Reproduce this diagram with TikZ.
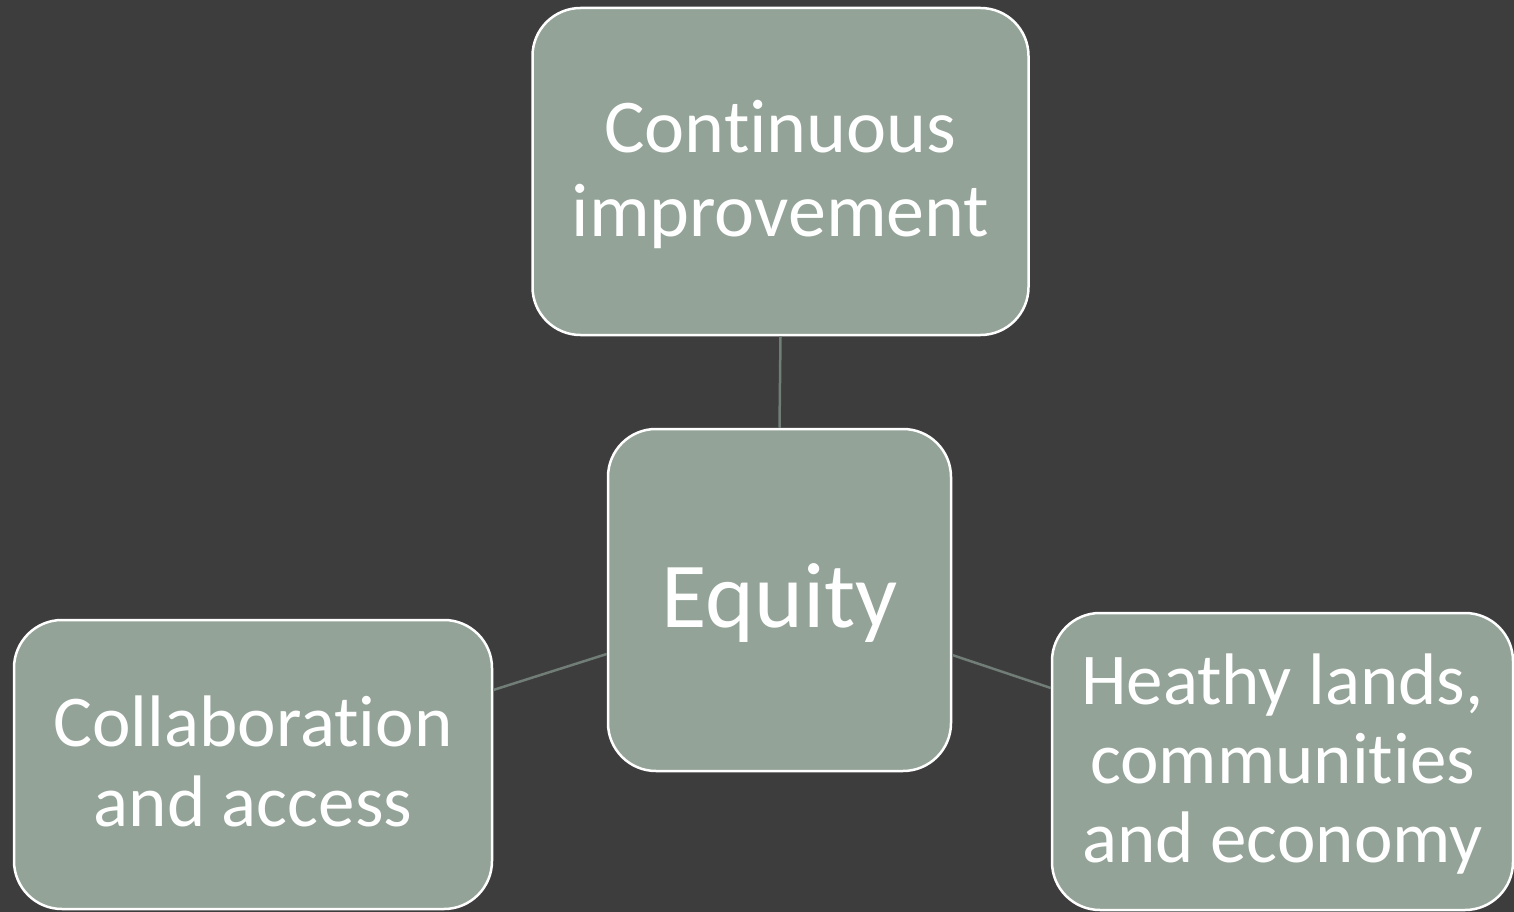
\documentclass[tikz,border=0pt]{standalone}
\usepackage{fontspec}
\setmainfont{Carlito}[Ligatures={NoCommon}]
\definecolor{bgc}{HTML}{3D3D3D}
\definecolor{boxc}{HTML}{93A398}
\definecolor{linec}{HTML}{717D77}
\newcommand{\mystrut}{\rule[-0.2em]{0pt}{1em}}
\begin{document}
\begin{tikzpicture}[x=1pt,y=-1pt,
  boxstyle/.style={draw=white, line width=2.5pt, fill=boxc, rounded corners=48pt,
    text=white, align=center, inner sep=0pt},
  conn/.style={draw=linec, line width=2.5pt}]
\fill[bgc] (0,0) rectangle (1514,912);
\useasboundingbox (0,0) rectangle (1514,912);
\node[boxstyle, minimum width=496pt, minimum height=327pt,
  font=\fontsize{76}{84}\selectfont] (top) at (780.5,171.5)
  {\mystrut Continuous\\\mystrut improvement};
\node[boxstyle, minimum width=343pt, minimum height=342pt,
  font=\fontsize{93}{100}\selectfont] (ctr) at (779.5,600)
  {\mystrut Equity};
\node[boxstyle, minimum width=478pt, minimum height=289pt,
  font=\fontsize{73}{80}\selectfont] (lft) at (253,764.5)
  {\mystrut Collaboration\\\mystrut and access};
\node[boxstyle, minimum width=461pt, minimum height=297pt,
  font=\fontsize{73}{79}\selectfont] (rgt) at (1282.5,761.5)
  {\mystrut Heathy lands,\\\mystrut communities\\\mystrut and economy};
\draw[conn] (top.south) -- (ctr.north);
\draw[conn] ([yshift=74.5pt]lft.east) -- ([yshift=-54pt]ctr.west);
\draw[conn] ([yshift=-55pt]ctr.east) -- ([yshift=73.5pt]rgt.west);
\end{tikzpicture}
\end{document}
